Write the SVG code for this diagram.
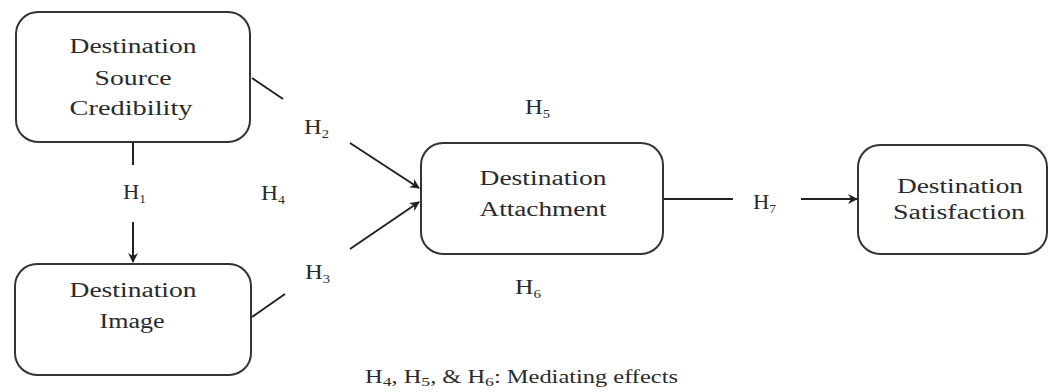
<svg xmlns="http://www.w3.org/2000/svg" width="1052" height="392" viewBox="0 0 1052 392">
<style>
.box{fill:#fff;stroke:#333;stroke-width:2}
.t{font-family:"Liberation Serif","Times New Roman",serif;font-size:20px;fill:#2a2a2a;text-anchor:middle}
.h{font-family:"Liberation Serif","Times New Roman",serif;font-size:22px;fill:#2a2a2a}
.s{font-size:13px}
.ln{stroke:#222;stroke-width:2;fill:none}
</style>
<defs>
<marker id="ah" viewBox="0 0 10 10" refX="9" refY="5" markerWidth="5" markerHeight="5" orient="auto" markerUnits="strokeWidth">
<path d="M0,0 L10,5 L0,10 L3,5 z" fill="#222"/>
</marker>
</defs>
<rect width="1052" height="392" fill="#fff"/>
<g id="connectors">
<line class="ln" x1="133" y1="143" x2="133" y2="165"/>
<line class="ln" x1="133" y1="222" x2="133" y2="262" marker-end="url(#ah)"/>
<line class="ln" x1="252" y1="78" x2="283" y2="99"/>
<line class="ln" x1="350" y1="143" x2="419" y2="188" marker-end="url(#ah)"/>
<line class="ln" x1="252" y1="317" x2="285" y2="294"/>
<line class="ln" x1="350" y1="249" x2="419" y2="202" marker-end="url(#ah)"/>
<line class="ln" x1="663" y1="199" x2="733" y2="199"/>
<line class="ln" x1="801" y1="199" x2="857" y2="199" marker-end="url(#ah)"/>
</g>
<g id="labels">
<text class="h" x="123" y="199" textLength="23" lengthAdjust="spacingAndGlyphs">H<tspan class="s" dy="4">1</tspan></text>
<text class="h" x="261" y="200" textLength="24" lengthAdjust="spacingAndGlyphs">H<tspan class="s" dy="4">4</tspan></text>
<text class="h" x="304" y="134" textLength="25" lengthAdjust="spacingAndGlyphs">H<tspan class="s" dy="4">2</tspan></text>
<text class="h" x="305" y="279" textLength="25" lengthAdjust="spacingAndGlyphs">H<tspan class="s" dy="4">3</tspan></text>
<text class="h" x="525" y="114" textLength="25" lengthAdjust="spacingAndGlyphs">H<tspan class="s" dy="4">5</tspan></text>
<text class="h" x="515" y="294" textLength="26" lengthAdjust="spacingAndGlyphs">H<tspan class="s" dy="4">6</tspan></text>
<text class="h" x="753" y="209" textLength="23" lengthAdjust="spacingAndGlyphs">H<tspan class="s" dy="4">7</tspan></text>
<text class="h" x="365" y="383" style="font-size:18px" textLength="313" lengthAdjust="spacingAndGlyphs">H<tspan class="s" dy="3">4</tspan><tspan dy="-3">, H</tspan><tspan class="s" dy="3">5</tspan><tspan dy="-3">, &amp; H</tspan><tspan class="s" dy="3">6</tspan><tspan dy="-3">: Mediating effects</tspan></text>
</g>
<g id="credibility">
<rect class="box" x="16" y="12" width="234" height="130" rx="22"/>
<text class="t" x="133" y="53" textLength="127" lengthAdjust="spacingAndGlyphs">Destination</text>
<text class="t" x="133" y="85" textLength="77" lengthAdjust="spacingAndGlyphs">Source</text>
<text class="t" x="131" y="115" textLength="123" lengthAdjust="spacingAndGlyphs">Credibility</text>
</g>
<g id="image">
<rect class="box" x="15" y="264" width="236" height="111" rx="22"/>
<text class="t" x="133" y="297" textLength="127" lengthAdjust="spacingAndGlyphs">Destination</text>
<text class="t" x="132" y="328" textLength="65" lengthAdjust="spacingAndGlyphs">Image</text>
</g>
<g id="attachment">
<rect class="box" x="421" y="143" width="242" height="111" rx="22"/>
<text class="t" x="543" y="185" textLength="127" lengthAdjust="spacingAndGlyphs">Destination</text>
<text class="t" x="543" y="216" textLength="127" lengthAdjust="spacingAndGlyphs">Attachment</text>
</g>
<g id="satisfaction">
<rect class="box" x="858" y="145" width="189" height="109" rx="22"/>
<text class="t" x="960" y="193" textLength="126" lengthAdjust="spacingAndGlyphs">Destination</text>
<text class="t" x="959" y="219" textLength="132" lengthAdjust="spacingAndGlyphs">Satisfaction</text>
</g>
</svg>
